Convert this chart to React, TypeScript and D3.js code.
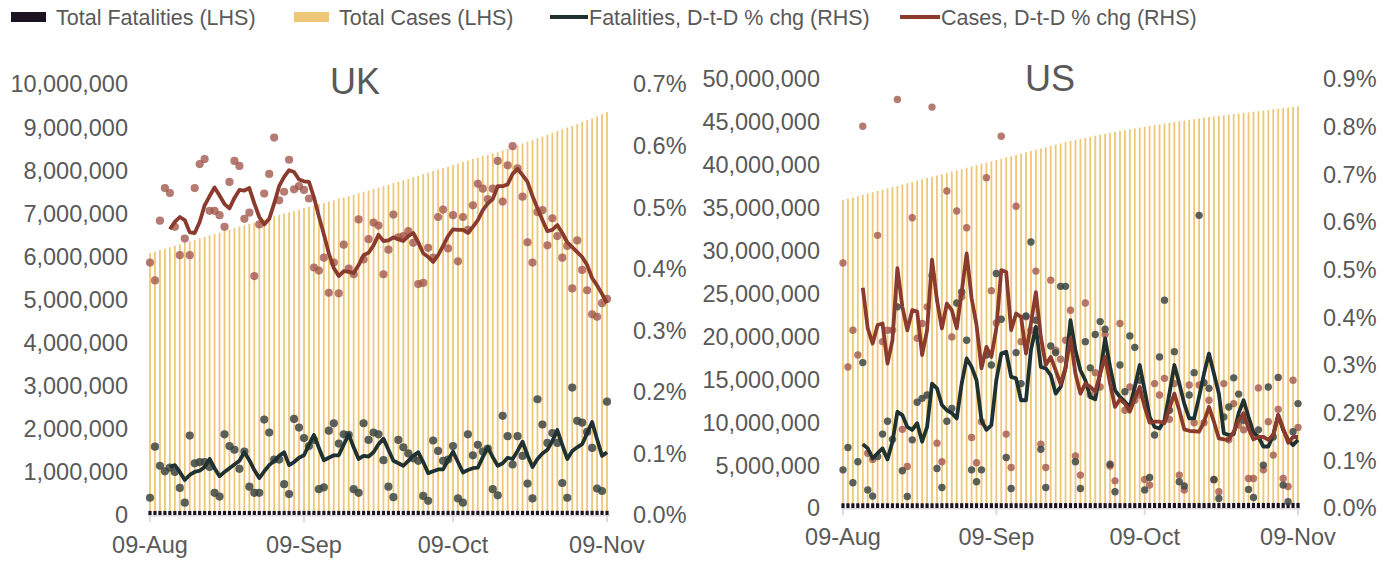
import React from "react";
import * as d3 from "d3";

// ---------- categories ----------
const startDate = new Date(Date.UTC(2020, 7, 9));
const endDate = new Date(Date.UTC(2020, 10, 9));
const dates: Date[] = d3.utcDay.range(startDate, d3.utcDay.offset(endDate, 1));
const tickDates = [
  new Date(Date.UTC(2020, 7, 9)),
  new Date(Date.UTC(2020, 8, 9)),
  new Date(Date.UTC(2020, 9, 9)),
  new Date(Date.UTC(2020, 10, 9)),
];
const tickLabels = ["09-Aug", "09-Sep", "09-Oct", "09-Nov"];

// ---------- legend ----------
const legendLabels = [
  "Total Fatalities (LHS)",
  "Total Cases (LHS)",
  "Fatalities, D-t-D % chg (RHS)",
  "Cases, D-t-D % chg (RHS)",
];

// ---------- axis ticks ----------
const ukLeftTicks = [0, 1, 2, 3, 4, 5, 6, 7, 8, 9, 10]; // millions
const ukRightTicks = [0, 0.1, 0.2, 0.3, 0.4, 0.5, 0.6, 0.7]; // %
const usLeftTicks = [0, 5, 10, 15, 20, 25, 30, 35, 40, 45, 50]; // millions
const usRightTicks = [0, 0.1, 0.2, 0.3, 0.4, 0.5, 0.6, 0.7, 0.8, 0.9]; // %

// ---------- UK ----------
// total cases, millions (LHS)
const ukTotalCases = [
  6.08, 6.11, 6.15, 6.18, 6.21, 6.25, 6.28, 6.32, 6.35, 6.38,
  6.42, 6.45, 6.49, 6.52, 6.55, 6.59, 6.62, 6.66, 6.69, 6.72,
  6.76, 6.79, 6.83, 6.86, 6.89, 6.93, 6.96, 6.99, 7.02, 7.05,
  7.08, 7.12, 7.15, 7.18, 7.21, 7.24, 7.27, 7.30, 7.34, 7.37,
  7.40, 7.43, 7.46, 7.50, 7.53, 7.56, 7.59, 7.63, 7.66, 7.70,
  7.73, 7.77, 7.80, 7.84, 7.87, 7.91, 7.94, 7.98, 8.01, 8.05,
  8.08, 8.12, 8.15, 8.19, 8.22, 8.26, 8.29, 8.33, 8.36, 8.39,
  8.42, 8.46, 8.50, 8.54, 8.58, 8.62, 8.66, 8.70, 8.74, 8.78,
  8.82, 8.87, 8.91, 8.95, 8.99, 9.03, 9.07, 9.12, 9.16, 9.20,
  9.25, 9.30, 9.35,
];
// total fatalities, millions (LHS)
const ukTotalFatalities = [
  0.094, 0.094, 0.094, 0.094, 0.094, 0.094, 0.094, 0.094, 0.094, 0.094,
  0.094, 0.094, 0.094, 0.094, 0.094, 0.094, 0.094, 0.094, 0.094, 0.094,
  0.094, 0.094, 0.094, 0.094, 0.094, 0.094, 0.094, 0.094, 0.094, 0.094,
  0.095, 0.095, 0.095, 0.095, 0.095, 0.095, 0.095, 0.095, 0.095, 0.095,
  0.095, 0.095, 0.095, 0.095, 0.095, 0.095, 0.095, 0.095, 0.095, 0.095,
  0.095, 0.095, 0.095, 0.095, 0.095, 0.095, 0.095, 0.095, 0.095, 0.095,
  0.096, 0.096, 0.096, 0.096, 0.096, 0.096, 0.096, 0.096, 0.096, 0.096,
  0.096, 0.096, 0.096, 0.096, 0.096, 0.096, 0.096, 0.096, 0.096, 0.096,
  0.097, 0.097, 0.097, 0.097, 0.097, 0.097, 0.097, 0.097, 0.097, 0.097,
  0.097, 0.097, 0.097,
];
// daily % change of cases (dots, RHS)
const ukCasesChg = [
  0.410, 0.381, 0.478, 0.531, 0.523, 0.468, 0.422, 0.449, 0.422, 0.531,
  0.570, 0.578, 0.494, 0.494, 0.487, 0.468, 0.541, 0.575, 0.567, 0.481,
  0.491, 0.388, 0.472, 0.522, 0.554, 0.613, 0.511, 0.525, 0.577, 0.529,
  0.534, 0.528, 0.514, 0.402, 0.397, 0.418, 0.361, 0.410, 0.360, 0.439,
  0.400, 0.391, 0.480, 0.415, 0.448, 0.475, 0.470, 0.391, 0.431, 0.488,
  0.451, 0.453, 0.461, 0.442, 0.375, 0.377, 0.434, 0.418, 0.484, 0.496,
  0.433, 0.487, 0.412, 0.484, 0.463, 0.503, 0.538, 0.530, 0.513, 0.530,
  0.575, 0.509, 0.568, 0.599, 0.563, 0.517, 0.443, 0.410, 0.492, 0.495,
  0.438, 0.482, 0.453, 0.418, 0.437, 0.368, 0.446, 0.398, 0.365, 0.326,
  0.322, 0.344, 0.351,
];
// daily % change of fatalities (dots, RHS)
const ukFatalitiesChg = [
  0.028, 0.111, 0.080, 0.071, 0.077, 0.070, 0.044, 0.020, 0.129, 0.084,
  0.086, 0.086, 0.078, 0.036, 0.030, 0.131, 0.112, 0.106, 0.075, 0.103,
  0.046, 0.036, 0.036, 0.155, 0.134, 0.090, 0.090, 0.050, 0.034, 0.156,
  0.142, 0.125, 0.112, 0.122, 0.042, 0.045, 0.137, 0.149, 0.116, 0.131,
  0.130, 0.042, 0.036, 0.149, 0.122, 0.134, 0.131, 0.089, 0.046, 0.029,
  0.122, 0.110, 0.100, 0.092, 0.088, 0.031, 0.023, 0.121, 0.104, 0.088,
  0.090, 0.112, 0.027, 0.020, 0.131, 0.097, 0.114, 0.103, 0.108, 0.042,
  0.032, 0.161, 0.128, 0.082, 0.128, 0.096, 0.051, 0.027, 0.188, 0.147,
  0.117, 0.133, 0.117, 0.052, 0.028, 0.207, 0.153, 0.150, 0.135, 0.109,
  0.043, 0.039, 0.184,
];
// smoothed cases % chg (line, RHS)
const ukCasesLine = [
  null, null, null, null,
  0.464, 0.476, 0.484, 0.479, 0.459, 0.458, 0.476, 0.503, 0.518, 0.532,
  0.519, 0.505, 0.498, 0.515, 0.528, 0.527, 0.531, 0.506, 0.484, 0.472,
  0.481, 0.506, 0.534, 0.549, 0.560, 0.557, 0.545, 0.542, 0.541, 0.516,
  0.485, 0.456, 0.425, 0.401, 0.388, 0.396, 0.395, 0.393, 0.406, 0.422,
  0.426, 0.438, 0.455, 0.445, 0.446, 0.451, 0.448, 0.445, 0.453, 0.458,
  0.443, 0.425, 0.419, 0.411, 0.422, 0.437, 0.453, 0.464, 0.463, 0.463,
  0.458, 0.468, 0.479, 0.495, 0.506, 0.513, 0.534, 0.534, 0.537, 0.554,
  0.562, 0.552, 0.541, 0.518, 0.498, 0.479, 0.461, 0.463, 0.471, 0.458,
  0.443, 0.435, 0.427, 0.419, 0.406, 0.385, 0.373, 0.359, 0.344,
];
// smoothed fatalities % chg (line, RHS)
const ukFatalitiesLine = [
  null, null, null, null,
  0.078, 0.081, 0.070, 0.057, 0.065, 0.070, 0.072, 0.078, 0.091, 0.076,
  0.063, 0.070, 0.076, 0.082, 0.088, 0.102, 0.089, 0.073, 0.060, 0.071,
  0.081, 0.088, 0.096, 0.102, 0.081, 0.086, 0.093, 0.097, 0.114, 0.130,
  0.109, 0.089, 0.093, 0.097, 0.097, 0.114, 0.131, 0.110, 0.091, 0.096,
  0.095, 0.102, 0.115, 0.124, 0.106, 0.088, 0.084, 0.080, 0.088, 0.096,
  0.102, 0.086, 0.068, 0.071, 0.074, 0.074, 0.089, 0.103, 0.086, 0.069,
  0.073, 0.076, 0.077, 0.094, 0.110, 0.094, 0.080, 0.084, 0.093, 0.091,
  0.104, 0.119, 0.097, 0.078, 0.091, 0.100, 0.106, 0.120, 0.138, 0.114,
  0.091, 0.104, 0.110, 0.115, 0.133, 0.151, 0.123, 0.096, 0.102,
];

// ---------- US ----------
const usTotalCases = [
  35.90, 36.05, 36.20, 36.35, 36.50, 36.65, 36.80, 36.95, 37.10, 37.25,
  37.40, 37.55, 37.70, 37.85, 38.00, 38.15, 38.30, 38.45, 38.60, 38.75,
  38.90, 39.05, 39.20, 39.35, 39.50, 39.65, 39.80, 39.95, 40.10, 40.25,
  40.40, 40.55, 40.70, 40.85, 41.00, 41.15, 41.30, 41.45, 41.60, 41.75,
  41.90, 42.05, 42.20, 42.35, 42.50, 42.65, 42.78, 42.90, 43.02, 43.14,
  43.26, 43.38, 43.50, 43.61, 43.72, 43.83, 43.94, 44.04, 44.14, 44.24,
  44.34, 44.44, 44.54, 44.63, 44.72, 44.81, 44.90, 44.99, 45.08, 45.16,
  45.24, 45.32, 45.40, 45.48, 45.56, 45.63, 45.70, 45.77, 45.84, 45.91,
  45.98, 46.05, 46.12, 46.19, 46.26, 46.33, 46.40, 46.47, 46.54, 46.61,
  46.68, 46.75, 46.82,
];
const usTotalFatalities = [
  0.55, 0.55, 0.55, 0.55, 0.55, 0.55, 0.55, 0.55, 0.55, 0.55,
  0.55, 0.55, 0.55, 0.55, 0.55, 0.55, 0.55, 0.55, 0.55, 0.55,
  0.56, 0.56, 0.56, 0.56, 0.56, 0.56, 0.56, 0.56, 0.56, 0.56,
  0.56, 0.56, 0.56, 0.56, 0.56, 0.56, 0.56, 0.56, 0.56, 0.56,
  0.57, 0.57, 0.57, 0.57, 0.57, 0.57, 0.57, 0.57, 0.57, 0.57,
  0.57, 0.57, 0.57, 0.57, 0.57, 0.57, 0.57, 0.57, 0.57, 0.57,
  0.58, 0.58, 0.58, 0.58, 0.58, 0.58, 0.58, 0.58, 0.58, 0.58,
  0.58, 0.58, 0.58, 0.58, 0.58, 0.58, 0.58, 0.58, 0.58, 0.58,
  0.59, 0.59, 0.59, 0.59, 0.59, 0.59, 0.59, 0.59, 0.59, 0.59,
  0.59, 0.59, 0.59,
];
const usCasesChg = [
  0.514, 0.296, 0.373, 0.321, 0.801, 0.115, 0.102, 0.572, 0.349, 0.373,
  0.373, 0.857, 0.165, 0.087, 0.609, 0.356, 0.387, 0.422, 0.841, 0.136,
  0.097, 0.665, 0.359, 0.623, 0.443, 0.588, 0.148, 0.095, 0.181, 0.693,
  0.456, 0.388, 0.780, 0.155, 0.085, 0.633, 0.349, 0.401, 0.373, 0.497,
  0.134, 0.085, 0.478, 0.331, 0.312, 0.352, 0.415, 0.109, 0.069, 0.430,
  0.237, 0.284, 0.254, 0.364, 0.088, 0.057, 0.387, 0.205, 0.254, 0.226,
  0.237, 0.060, 0.048, 0.261, 0.237, 0.272, 0.186, 0.261, 0.069, 0.038,
  0.258, 0.179, 0.258, 0.179, 0.226, 0.059, 0.034, 0.261, 0.143, 0.219,
  0.174, 0.164, 0.062, 0.062, 0.252, 0.080, 0.181, 0.111, 0.207, 0.062,
  0.045, 0.268, 0.169,
];
const usFatalitiesChg = [
  0.080, 0.127, 0.053, 0.097, 0.305, 0.038, 0.025, 0.108, 0.155, 0.182,
  0.144, 0.422, 0.078, 0.024, 0.143, 0.222, 0.230, 0.237, 0.488, 0.083,
  0.043, 0.182, 0.209, 0.430, 0.453, 0.352, 0.080, 0.055, 0.080, 0.321,
  0.300, 0.492, 0.396, 0.106, 0.041, 0.326, 0.261, 0.403, 0.558, 0.394,
  0.123, 0.043, 0.340, 0.326, 0.465, 0.465, 0.342, 0.097, 0.041, 0.349,
  0.294, 0.364, 0.391, 0.375, 0.092, 0.034, 0.300, 0.244, 0.361, 0.337,
  0.268, 0.038, 0.064, 0.153, 0.317, 0.436, 0.205, 0.328, 0.055, 0.046,
  0.237, 0.284, 0.614, 0.263, 0.251, 0.060, 0.020, 0.191, 0.212, 0.273,
  0.239, 0.184, 0.039, 0.022, 0.164, 0.090, 0.254, 0.149, 0.274, 0.048,
  0.013, 0.160, 0.219,
];
const usCasesLine = [
  null, null, null, null,
  0.462, 0.377, 0.345, 0.384, 0.387, 0.303, 0.352, 0.503, 0.422, 0.373,
  0.415, 0.412, 0.321, 0.373, 0.521, 0.436, 0.377, 0.429, 0.415, 0.377,
  0.453, 0.534, 0.440, 0.384, 0.293, 0.338, 0.317, 0.377, 0.499, 0.495,
  0.373, 0.408, 0.401, 0.324, 0.387, 0.453, 0.359, 0.300, 0.317, 0.289,
  0.260, 0.295, 0.356, 0.282, 0.240, 0.261, 0.254, 0.244, 0.282, 0.317,
  0.261, 0.212, 0.228, 0.219, 0.202, 0.230, 0.254, 0.212, 0.179, 0.181,
  0.181, 0.178, 0.209, 0.240, 0.205, 0.165, 0.162, 0.161, 0.160, 0.181,
  0.212, 0.181, 0.146, 0.144, 0.143, 0.160, 0.184, 0.199, 0.167, 0.144,
  0.149, 0.149, 0.143, 0.153, 0.195, 0.167, 0.137, 0.149, 0.149,
];
const usFatalitiesLine = [
  null, null, null, null,
  0.134, 0.125, 0.104, 0.115, 0.125, 0.102, 0.139, 0.202, 0.195, 0.170,
  0.164, 0.178, 0.139, 0.170, 0.261, 0.251, 0.216, 0.205, 0.199, 0.188,
  0.261, 0.314, 0.296, 0.268, 0.184, 0.164, 0.174, 0.268, 0.324, 0.328,
  0.275, 0.272, 0.226, 0.226, 0.331, 0.380, 0.296, 0.293, 0.279, 0.240,
  0.254, 0.293, 0.394, 0.331, 0.289, 0.268, 0.233, 0.228, 0.282, 0.356,
  0.296, 0.247, 0.233, 0.223, 0.212, 0.254, 0.300, 0.247, 0.191, 0.170,
  0.167, 0.184, 0.240, 0.300, 0.261, 0.219, 0.188, 0.188, 0.233, 0.282,
  0.324, 0.282, 0.240, 0.157, 0.153, 0.155, 0.199, 0.226, 0.191, 0.158,
  0.149, 0.129, 0.129, 0.153, 0.195, 0.164, 0.143, 0.132, 0.143,
];

// ---------- styles ----------
const FONT = "'Liberation Sans', Arial, Helvetica, sans-serif";
const TEXT = "#595959";
const YELLOW = "#EEC878";
const BLACK = "#1B1222";
const RED_LINE = "#8B3A2E";
const DARK_LINE = "#1F3131";
const RED_DOT = "#A0544A";
const DARK_DOT = "#3D4744";
const AXIS = "#D9D9D9";

type PanelProps = {
  title: string;
  titleX: number;
  titleY: number;
  xLeft: number;
  xRight: number;
  yBase: number;
  yTop: number;
  leftMax: number;
  rightMax: number;
  leftTicks: number[];
  rightTicks: number[];
  leftLabelX: number;
  rightLabelX: number;
  xLabelY: number;
  totalCases: number[];
  totalFatalities: number[];
  casesChg: number[];
  fatalitiesChg: number[];
  casesLine: (number | null)[];
  fatalitiesLine: (number | null)[];
  dotR: number;
};

function Panel(p: PanelProps) {
  const x = d3.scaleUtc().domain([dates[0], dates[dates.length - 1]]).range([p.xLeft, p.xRight]);
  const yL = d3.scaleLinear().domain([0, p.leftMax]).range([p.yBase, p.yTop]);
  const yR = d3.scaleLinear().domain([0, p.rightMax]).range([p.yBase, p.yTop]);
  const fmtL = (v: number) => d3.format(",")(Math.round(v * 1e6));
  const fmtR = (v: number) => d3.format(".1f")(v) + "%";
  const line = d3
    .line<number | null>()
    .defined((d) => d != null)
    .x((_, i) => x(dates[i]))
    .y((d) => yR(d as number));
  const yellowW = 1.8;
  const blackW = 3.2;
  return (
    <g>
      {/* title */}
      <text x={p.titleX} y={p.titleY} textAnchor="middle" fontSize={36} fill={TEXT} fontFamily={FONT}>
        {p.title}
      </text>
      {/* left ticks */}
      {p.leftTicks.map((t) => (
        <text key={"l" + t} x={p.leftLabelX} y={yL(t)} dy="0.36em" textAnchor="end" fontSize={23.5} fill={TEXT} fontFamily={FONT}>
          {fmtL(t)}
        </text>
      ))}
      {/* right ticks */}
      {p.rightTicks.map((t) => (
        <text key={"r" + t} x={p.rightLabelX} y={yR(t)} dy="0.36em" textAnchor="start" fontSize={23.5} fill={TEXT} fontFamily={FONT}>
          {fmtR(t)}
        </text>
      ))}
      {/* total cases bars */}
      {p.totalCases.map((v, i) => (
        <rect key={"c" + i} x={x(dates[i]) - yellowW / 2} y={yL(v)} width={yellowW} height={p.yBase - yL(v)} fill={YELLOW} />
      ))}
      {/* x axis */}
      <line x1={p.xLeft - 2} x2={p.xRight + 3} y1={p.yBase + 0.75} y2={p.yBase + 0.75} stroke={AXIS} strokeWidth={1.5} />
      {tickDates.map((d, i) => (
        <line key={"t" + i} x1={x(d)} x2={x(d)} y1={p.yBase} y2={p.yBase + 7} stroke={AXIS} strokeWidth={1.8} />
      ))}
      {/* total fatalities bars */}
      {p.totalFatalities.map((v, i) => (
        <rect key={"f" + i} x={x(dates[i]) - blackW / 2} y={yL(v)} width={blackW} height={p.yBase - yL(v)} fill={BLACK} />
      ))}
      {/* dots */}
      {p.casesChg.map((v, i) => (
        <circle key={"cd" + i} cx={x(dates[i])} cy={yR(v)} r={p.dotR} fill={RED_DOT} fillOpacity={0.78} />
      ))}
      {p.fatalitiesChg.map((v, i) => (
        <circle key={"fd" + i} cx={x(dates[i])} cy={yR(v)} r={p.dotR} fill={DARK_DOT} fillOpacity={0.85} />
      ))}
      {/* lines */}
      <path d={line(p.fatalitiesLine) || ""} fill="none" stroke={DARK_LINE} strokeWidth={3.8} strokeLinejoin="round" />
      <path d={line(p.casesLine) || ""} fill="none" stroke={RED_LINE} strokeWidth={3.8} strokeLinejoin="round" />
      {/* x labels */}
      {tickDates.map((d, i) => (
        <text key={"xl" + i} x={x(d)} y={p.xLabelY} dy="0.36em" textAnchor="middle" fontSize={23.5} fill={TEXT} fontFamily={FONT}>
          {tickLabels[i]}
        </text>
      ))}
    </g>
  );
}

function Legend() {
  const ty = 25;
  return (
    <g fontFamily={FONT} fontSize={21.5} fill={TEXT}>
      <rect x={11} y={12} width={35} height={10} fill={BLACK} />
      <text x={56} y={ty}>{legendLabels[0]}</text>
      <rect x={294} y={12} width={35} height={10} fill={YELLOW} />
      <text x={339} y={ty}>{legendLabels[1]}</text>
      <line x1={550} x2={588} y1={17} y2={17} stroke={DARK_LINE} strokeWidth={4} />
      <text x={589} y={ty}>{legendLabels[2]}</text>
      <line x1={900} x2={940} y1={17} y2={17} stroke={RED_LINE} strokeWidth={4} />
      <text x={941} y={ty}>{legendLabels[3]}</text>
    </g>
  );
}

export default function App() {
  return (
    <svg width={1383} height={561} style={{ position: "absolute", left: 0, top: 0, background: "#fff" }}>
      <rect x={0} y={0} width={1383} height={561} fill="#fff" />
      <Legend />
      <Panel
        title="UK"
        titleX={355}
        titleY={94}
        xLeft={150}
        xRight={607}
        yBase={515}
        yTop={84}
        leftMax={10}
        rightMax={0.7}
        leftTicks={ukLeftTicks}
        rightTicks={ukRightTicks}
        leftLabelX={128}
        rightLabelX={633}
        xLabelY={545}
        totalCases={ukTotalCases}
        totalFatalities={ukTotalFatalities}
        casesChg={ukCasesChg}
        fatalitiesChg={ukFatalitiesChg}
        casesLine={ukCasesLine}
        fatalitiesLine={ukFatalitiesLine}
        dotR={4.1}
      />
      <Panel
        title="US"
        titleX={1050}
        titleY={91}
        xLeft={843}
        xRight={1298}
        yBase={508}
        yTop={79}
        leftMax={50}
        rightMax={0.9}
        leftTicks={usLeftTicks}
        rightTicks={usRightTicks}
        leftLabelX={820}
        rightLabelX={1323}
        xLabelY={537}
        totalCases={usTotalCases}
        totalFatalities={usTotalFatalities}
        casesChg={usCasesChg}
        fatalitiesChg={usFatalitiesChg}
        casesLine={usCasesLine}
        fatalitiesLine={usFatalitiesLine}
        dotR={3.7}
      />
    </svg>
  );
}
